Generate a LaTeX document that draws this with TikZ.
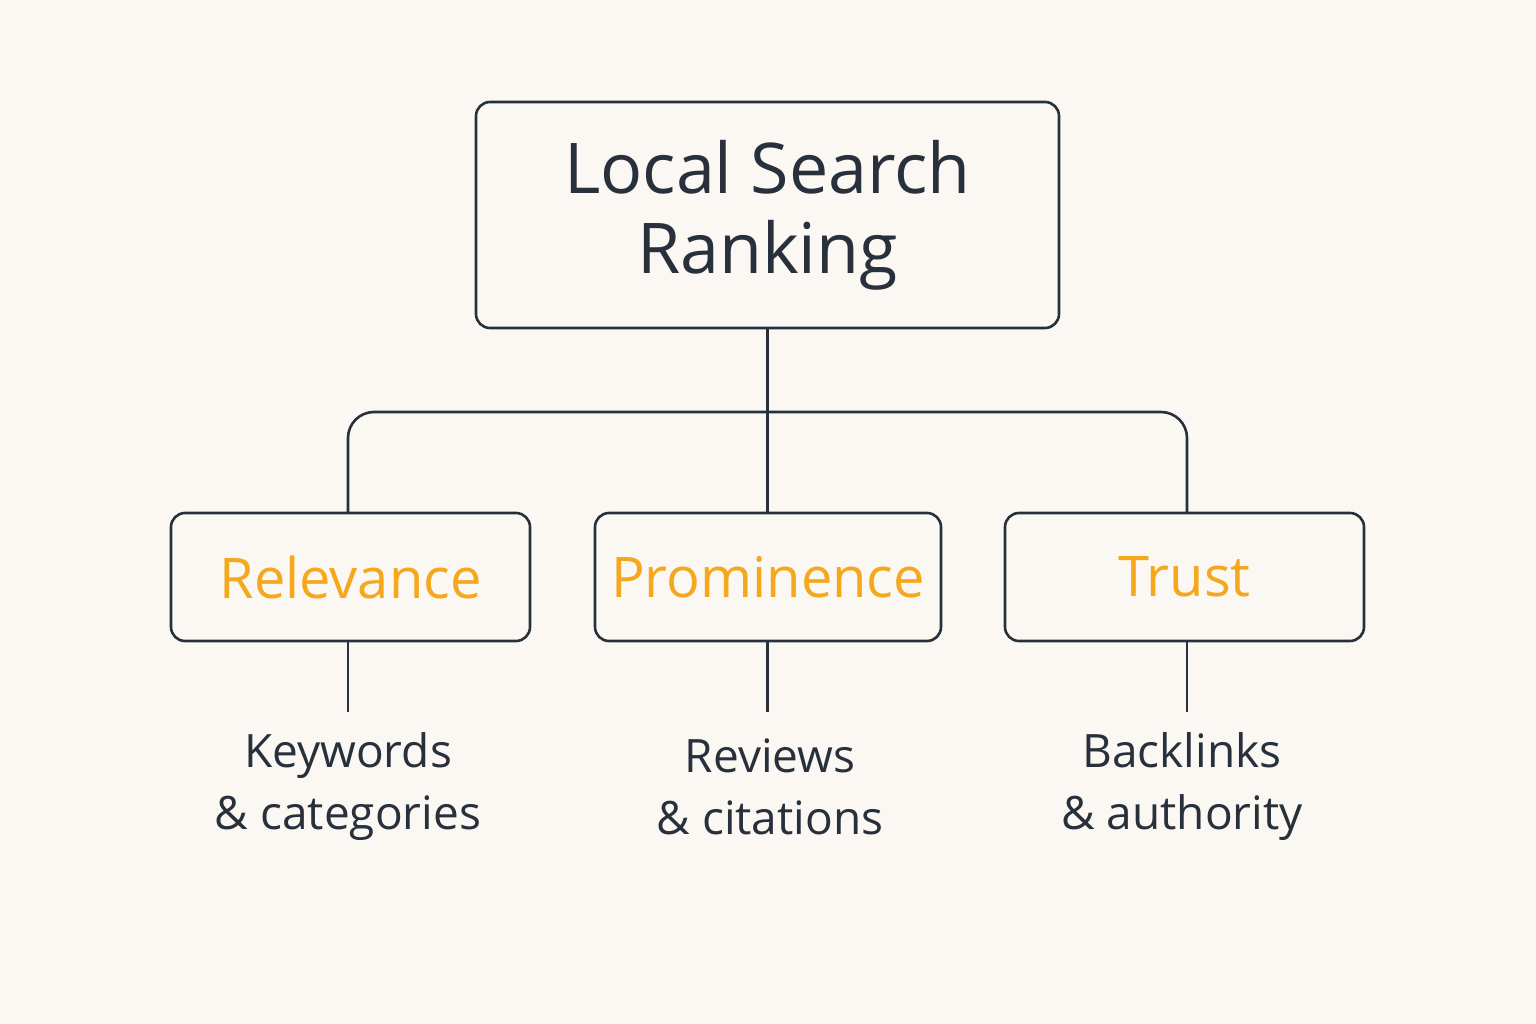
\documentclass[tikz,border=0pt]{standalone}
\usepackage{fontspec}
\setmainfont{Open Sans}
\begin{document}
\definecolor{bg}{HTML}{FBF8F3}
\definecolor{ink}{HTML}{27303B}
\definecolor{org}{HTML}{F5A81E}
\begin{tikzpicture}[x=1pt,y=-1pt,
  box/.style={draw=ink,line width=2.6pt,rounded corners=14pt,inner sep=0pt},
  sub/.style={font=\fontsize{56}{60}\selectfont,text=org},
  lbl/.style={font=\fontsize{46}{62}\selectfont,text=ink,align=center},
  con/.style={draw=ink,line width=2.6pt}]
\fill[bg] (0,0) rectangle (1536,1024);
\useasboundingbox (0,0) rectangle (1536,1024);
\node[box,minimum width=583pt,minimum height=226pt,align=center,text=ink,
  font=\fontsize{70}{80}\selectfont] (top) at (767.5,215) {Local Search\\Ranking};
\node[box,minimum width=359pt,minimum height=128pt] (rel) at (350.5,577) {};
\node[sub] at (rel) {Relevance};
\node[box,minimum width=346pt,minimum height=128pt] (pro) at (768,577) {};
\node[sub] at (pro) {Prominence};
\node[box,minimum width=359pt,minimum height=128pt] (tru) at (1184.5,577) {};
\node[sub] at (tru) {Trust};
\coordinate (j) at (767.5,412);
\draw[con] (top.south) -- (top.south |- pro.north);
\draw[con,rounded corners=26pt] (348,513) |- (j) -| (1187,513);
\coordinate (e1) at (348,712);
\coordinate (e2) at (767.5,712);
\coordinate (e3) at (1187,712);
\draw[con] (348,641) -- (e1);
\draw[con] (767.5,641) -- (e2);
\draw[con] (1187,641) -- (e3);
\node[lbl] (kw) at (348,787) {Keywords\\\& categories};
\node[lbl] (rv) at (770,787) {Reviews\\\& citations};
\node[lbl] (bl) at (1182,787) {Backlinks\\\& authority};
\end{tikzpicture}
\end{document}
